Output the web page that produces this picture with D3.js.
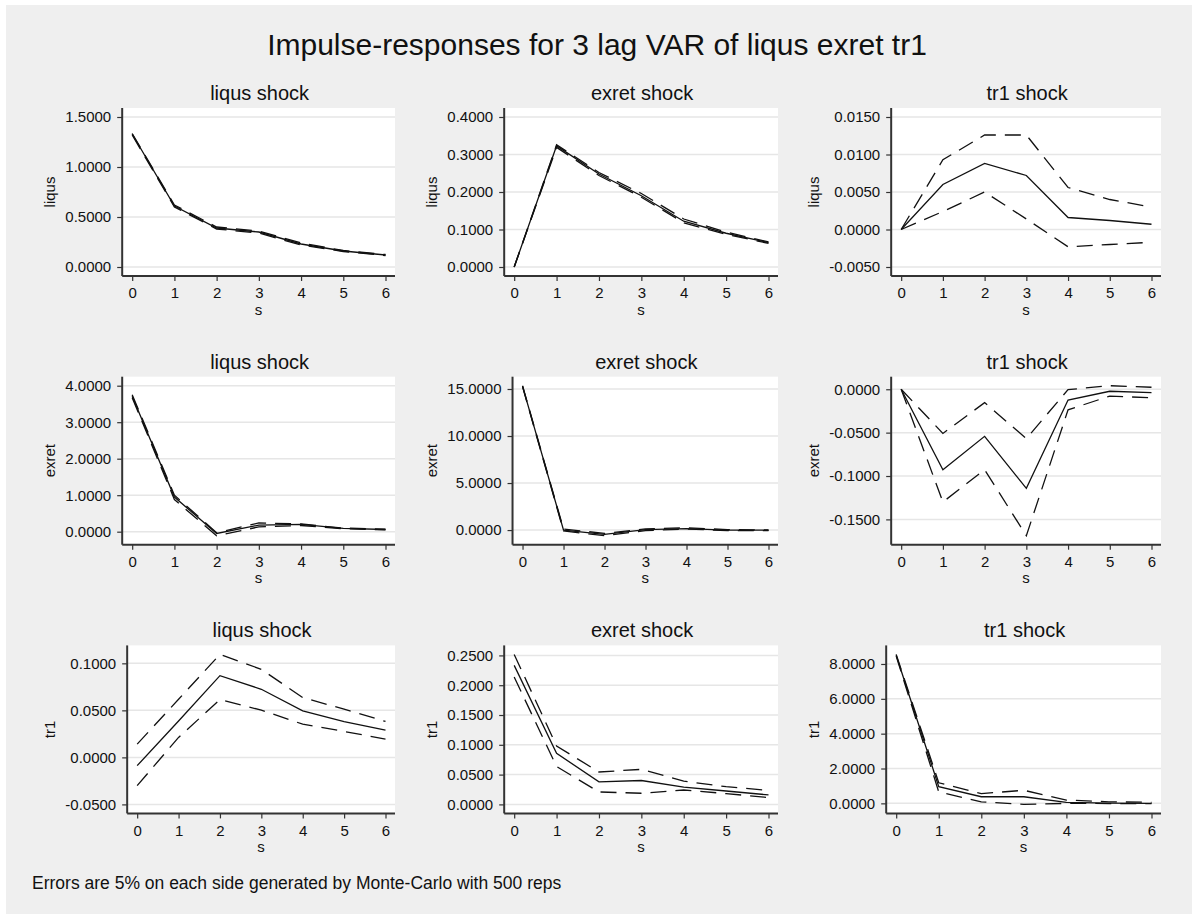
<!DOCTYPE html>
<html lang="en">
<head>
  <meta charset="UTF-8">
  <title>Impulse-responses</title>
  <style>
    body { margin: 0; background: #fff; }
    svg { display: block; font-family: "Liberation Sans", Arial, sans-serif; }
    .grid line { stroke: #e6e6e6; stroke-width: 1.5; }
    .axis text { fill: #111; font-size: 15px; }
    .axis line { stroke: #333; stroke-width: 1.2; }
    .axis path { display: none; }
    .frame { stroke: #333; stroke-width: 2; }
    .irf { fill: none; stroke: #111; stroke-width: 1.3; }
    .band { fill: none; stroke: #111; stroke-width: 1.3; stroke-dasharray: 16,9; }
  </style>
  <script src="https://d3js.org/d3.v7.min.js"></script>
</head>
<body>
<svg id="chart"></svg>
<script>

// steps after the shock
var steps = [0, 1, 2, 3, 4, 5, 6];
var responses = ['liqus', 'exret', 'tr1'];   // rows
var shocks = ['liqus', 'exret', 'tr1'];      // columns

// response of liqus
var liqus_liqus_irf = [1.33, 0.61, 0.39, 0.35, 0.23, 0.16, 0.12];
var liqus_liqus_lo  = [1.32, 0.60, 0.38, 0.34, 0.22, 0.155, 0.115];
var liqus_liqus_hi  = [1.335, 0.62, 0.40, 0.36, 0.24, 0.165, 0.125];
var liqus_liqus_ticks = [0, 0.5, 1.0, 1.5];

var liqus_exret_irf = [0, 0.323, 0.248, 0.19, 0.122, 0.09, 0.065];
var liqus_exret_lo  = [0, 0.319, 0.244, 0.186, 0.118, 0.087, 0.063];
var liqus_exret_hi  = [0, 0.326, 0.252, 0.196, 0.128, 0.093, 0.067];
var liqus_exret_ticks = [0, 0.1, 0.2, 0.3, 0.4];

var liqus_tr1_irf = [0, 0.0060, 0.0088, 0.0072, 0.0016, 0.0012, 0.0007];
var liqus_tr1_lo  = [0, 0.0024, 0.0050, 0.0014, -0.0023, -0.0020, -0.0017];
var liqus_tr1_hi  = [0, 0.0093, 0.0126, 0.0126, 0.0056, 0.0040, 0.0030];
var liqus_tr1_ticks = [-0.005, 0, 0.005, 0.010, 0.015];

// response of exret
var exret_liqus_irf = [3.71, 0.95, -0.05, 0.18, 0.20, 0.09, 0.06];
var exret_liqus_lo  = [3.67, 0.88, -0.11, 0.13, 0.17, 0.08, 0.05];
var exret_liqus_hi  = [3.75, 1.00, -0.03, 0.24, 0.21, 0.10, 0.07];
var exret_liqus_ticks = [0, 1, 2, 3, 4];

var exret_exret_irf = [15.3, 0.0, -0.45, 0.05, 0.15, 0.0, -0.02];
var exret_exret_lo  = [15.25, -0.1, -0.6, -0.05, 0.1, -0.05, -0.05];
var exret_exret_hi  = [15.35, 0.1, -0.35, 0.12, 0.25, 0.05, 0.02];
var exret_exret_ticks = [0, 5, 10, 15];

var exret_tr1_irf = [0, -0.0927, -0.0543, -0.1142, -0.0124, -0.0023, -0.0038];
var exret_tr1_lo  = [0, -0.1300, -0.0927, -0.1688, -0.0237, -0.0079, -0.0098];
var exret_tr1_hi  = [0, -0.0509, -0.0154, -0.0569, -0.0004, 0.0041, 0.0023];
var exret_tr1_ticks = [-0.15, -0.10, -0.05, 0];

// response of tr1
var tr1_liqus_irf = [-0.0088, 0.0387, 0.0869, 0.0724, 0.0495, 0.038, 0.029];
var tr1_liqus_lo  = [-0.030, 0.0212, 0.0615, 0.0502, 0.0353, 0.0276, 0.0194];
var tr1_liqus_hi  = [0.0141, 0.0618, 0.1095, 0.0936, 0.0636, 0.0512, 0.0382];
var tr1_liqus_ticks = [-0.05, 0, 0.05, 0.10];

var tr1_exret_irf = [0.2333, 0.0857, 0.0379, 0.0401, 0.0291, 0.0225, 0.0159];
var tr1_exret_lo  = [0.2137, 0.0635, 0.0209, 0.0187, 0.0242, 0.0181, 0.0115];
var tr1_exret_hi  = [0.2517, 0.0980, 0.0544, 0.0588, 0.0390, 0.0297, 0.0236];
var tr1_exret_ticks = [0, 0.05, 0.10, 0.15, 0.20, 0.25];

var tr1_tr1_irf = [8.5, 0.96, 0.38, 0.38, 0.06, 0.01, 0.0];
var tr1_tr1_lo  = [8.45, 0.66, 0.09, -0.06, 0.0, -0.01, -0.01];
var tr1_tr1_hi  = [8.55, 1.18, 0.56, 0.75, 0.19, 0.09, 0.06];
var tr1_tr1_ticks = [0, 2, 4, 6, 8];

var titleText = 'Impulse-responses for 3 lag VAR of liqus exret tr1';
var noteText = 'Errors are 5% on each side generated by Monte-Carlo with 500 reps';

var series = {
  liqus_liqus: [liqus_liqus_irf, liqus_liqus_lo, liqus_liqus_hi, liqus_liqus_ticks],
  liqus_exret: [liqus_exret_irf, liqus_exret_lo, liqus_exret_hi, liqus_exret_ticks],
  liqus_tr1:   [liqus_tr1_irf, liqus_tr1_lo, liqus_tr1_hi, liqus_tr1_ticks],
  exret_liqus: [exret_liqus_irf, exret_liqus_lo, exret_liqus_hi, exret_liqus_ticks],
  exret_exret: [exret_exret_irf, exret_exret_lo, exret_exret_hi, exret_exret_ticks],
  exret_tr1:   [exret_tr1_irf, exret_tr1_lo, exret_tr1_hi, exret_tr1_ticks],
  tr1_liqus:   [tr1_liqus_irf, tr1_liqus_lo, tr1_liqus_hi, tr1_liqus_ticks],
  tr1_exret:   [tr1_exret_irf, tr1_exret_lo, tr1_exret_hi, tr1_exret_ticks],
  tr1_tr1:     [tr1_tr1_irf, tr1_tr1_lo, tr1_tr1_hi, tr1_tr1_ticks]
};

var width = 1192, height = 914;
var svg = d3.select('#chart').attr('width', width).attr('height', height);

svg.append('rect')
    .attr('x', 6).attr('y', 5)
    .attr('width', width - 6).attr('height', height - 5)
    .attr('fill', '#efefef');

svg.append('text')
    .attr('x', 597).attr('y', 55)
    .attr('text-anchor', 'middle')
    .attr('font-size', 30)
    .attr('fill', '#111')
    .text(titleText);

svg.append('text')
    .attr('x', 32).attr('y', 889)
    .attr('font-size', 17.5)
    .attr('fill', '#111')
    .text(noteText);

var fmt = d3.formatLocale({decimal: '.', thousands: ',', grouping: [3], currency: ['', ''], minus: '-'}).format('.4f');

// width of the widest tick label, to place the y axis like stata does
function labelWidth(ticks) {
  var t = svg.append('text').attr('font-size', 15);
  var w = d3.max(ticks, function(v) {
    t.text(fmt(v));
    return t.node().getComputedTextLength();
  });
  t.remove();
  return w;
}

var rowStep = 268.7;
var line = d3.line();

responses.forEach(function(resp, row) {
  shocks.forEach(function(shock, col) {
    var s = series[resp + '_' + shock];
    var irf = s[0], lo = s[1], hi = s[2], ticks = s[3];

    var top = 108 + row * rowStep;
    var bottom = 276 + row * rowStep;
    var right = 395 + col * 383;
    var lw = labelWidth(ticks);
    var left = 76.3 + col * 382 + lw;

    var x = d3.scaleLinear().domain([0, 6]).range([left + 10, right - 9.5]);
    var y = d3.scaleLinear()
        .domain(d3.extent(ticks.concat(irf, lo, hi)))
        .range([bottom - 9, top + 9]);

    var g = svg.append('g').attr('class', 'panel');

    g.append('rect')
        .attr('x', left).attr('y', top)
        .attr('width', right - left).attr('height', bottom - top)
        .attr('fill', '#fff');

    g.append('g')
        .attr('class', 'grid')
        .selectAll('line')
        .data(ticks)
        .enter()
        .append('line')
        .attr('x1', left).attr('x2', right)
        .attr('y1', function(d) { return y(d); })
        .attr('y2', function(d) { return y(d); });

    g.append('g')
        .attr('class', 'axis')
        .attr('transform', 'translate(' + left + ',0)')
        .call(d3.axisLeft(y).tickValues(ticks).tickFormat(fmt).tickSize(5).tickPadding(6));

    g.append('g')
        .attr('class', 'axis')
        .attr('transform', 'translate(0,' + bottom + ')')
        .call(d3.axisBottom(x).tickValues(steps).tickFormat(d3.format('d')).tickSize(5).tickPadding(6.5));

    g.selectAll('.axis').attr('font-family', null).attr('font-size', null);

    g.append('line').attr('class', 'frame')
        .attr('x1', left).attr('x2', left)
        .attr('y1', top).attr('y2', bottom);
    g.append('line').attr('class', 'frame')
        .attr('x1', left).attr('x2', right)
        .attr('y1', bottom).attr('y2', bottom);

    [lo, hi].forEach(function(b) {
      g.append('path')
          .attr('class', 'band')
          .attr('d', line(steps.map(function(t, i) { return [x(t), y(b[i])]; })));
    });
    g.append('path')
        .attr('class', 'irf')
        .attr('d', line(steps.map(function(t, i) { return [x(t), y(irf[i])]; })));

    // titles
    g.append('text')
        .attr('x', (left + right) / 2 + 1)
        .attr('y', top - 8)
        .attr('text-anchor', 'middle')
        .attr('font-size', 20)
        .attr('fill', '#111')
        .text(shock + ' shock');

    g.append('text')
        .attr('x', (left + right) / 2)
        .attr('y', bottom + 38.5)
        .attr('text-anchor', 'middle')
        .attr('font-size', 15)
        .attr('fill', '#111')
        .text('s');

    var ty = (top + bottom) / 2;
    var tx = left - 11 - lw - 10.5;
    g.append('text')
        .attr('transform', 'translate(' + tx + ',' + ty + ') rotate(-90)')
        .attr('text-anchor', 'middle')
        .attr('font-size', 15)
        .attr('fill', '#111')
        .text(resp);
  });
});

</script>
</body>
</html>
